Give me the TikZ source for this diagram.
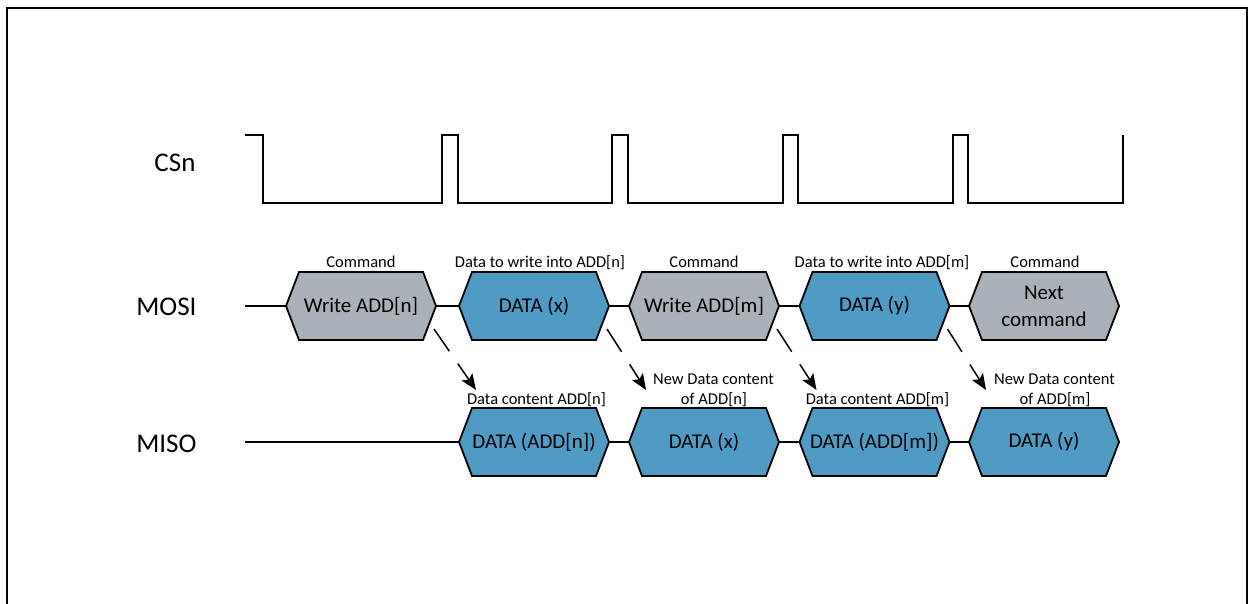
\documentclass[tikz,border=0pt]{standalone}
\usepackage{fontspec}
\setmainfont{Carlito}
\usetikzlibrary{calc,arrows.meta,backgrounds}
\definecolor{hexblue}{RGB}{80,155,196}
\definecolor{hexgray}{RGB}{170,177,185}
\tikzset{
 wire/.style={line width=1.8pt, line join=miter},
 hexbox/.style={rectangle, minimum width=150pt, minimum height=68pt, inner sep=0pt, outer sep=0pt, font=\fontsize{21}{27}\selectfont, align=center},
 hexshape/.style={line width=1.8pt, draw=black, line join=miter},
 sig/.style={font=\fontsize{27}{30}\selectfont, anchor=base east},
 lab/.style={font=\fontsize{16.5}{18}\selectfont, anchor=base},
 dep/.style={line width=1.5pt, dash pattern=on 27pt off 15pt, -{Stealth[length=16pt,width=13pt,inset=3.5pt]}}
}
\newcommand\hexpath[2]{\filldraw[hexshape, fill=#2] (#1.west) -- ($(#1.north west)+(13,0)$) -- ($(#1.north east)+(-13,0)$) -- (#1.east) -- ($(#1.south east)+(-13,0)$) -- ($(#1.south west)+(13,0)$) -- cycle;}
\begin{document}
\begin{tikzpicture}[x=1pt,y=-1pt]
\useasboundingbox (0,0) rectangle (1252,604);
\draw[line width=2pt] (7,604) -- (7,8) -- (1247,8) -- (1247,604);

\node[sig] (csn) at (199,172) {CSn};
\node[sig] (mosi) at (200,315) {MOSI};
\node[sig] (miso) at (200,452) {MISO};

\draw[wire] (245,135) -- (263,135) -- (263,203) -- (442,203) -- (442,135) -- (458,135) -- (458,203) -- (612,203) -- (612,135) -- (628,135) -- (628,203) -- (783,203) -- (783,135) -- (798,135) -- (798,203) -- (953,203) -- (953,135) -- (968,135) -- (968,203) -- (1123,203) -- (1123,135);

\node[hexbox] (h1) at (361,306) {Write ADD[n]};
\node[hexbox] (h2) at (534,306) {DATA (x)};
\node[hexbox] (h3) at (704,306) {Write ADD[m]};
\node[hexbox] (h4) at (874.5,306) {DATA (y)};
\node[hexbox] (h5) at (1044,306) {Next\\command};
\node[hexbox] (m1) at (534,442) {DATA (ADD[n])};
\node[hexbox] (m2) at (704,442) {DATA (x)};
\node[hexbox] (m3) at (874.5,442) {DATA (ADD[m])};
\node[hexbox] (m4) at (1044,442) {DATA (y)};

\begin{scope}[on background layer]
\hexpath{h1}{hexgray}
\hexpath{h2}{hexblue}
\hexpath{h3}{hexgray}
\hexpath{h4}{hexblue}
\hexpath{h5}{hexgray}
\hexpath{m1}{hexblue}
\hexpath{m2}{hexblue}
\hexpath{m3}{hexblue}
\hexpath{m4}{hexblue}
\end{scope}

\coordinate (mosi0) at (245,306);
\draw[wire] (mosi0) -- (h1.west);
\draw[wire] (h1.east) -- (h2.west);
\draw[wire] (h2.east) -- (h3.west);
\draw[wire] (h3.east) -- (h4.west);
\draw[wire] (h4.east) -- (h5.west);
\coordinate (miso0) at (245,442);
\draw[wire] (miso0) -- (m1.west);
\draw[wire] (m1.east) -- (m2.west);
\draw[wire] (m2.east) -- (m3.west);
\draw[wire] (m3.east) -- (m4.west);

\node[lab] (l1) at (361,267) {Command};
\node[lab] (l2) at (540,267) {Data to write into ADD[n]};
\node[lab] (l3) at (704,267) {Command};
\node[lab] (l4) at (882,267) {Data to write into ADD[m]};
\node[lab] (l5) at (1045,267) {Command};

\node[lab] (k1) at (536.5,404) {Data content ADD[n]};
\node[lab] (k2a) at (713.5,384) {New Data content};
\node[lab] (k2b) at (714,404) {of ADD[n]};
\node[lab] (k3) at (877.5,404) {Data content ADD[m]};
\node[lab] (k4a) at (1054.5,384) {New Data content};
\node[lab] (k4b) at (1055,404) {of ADD[m]};

\draw[dep] ($(h1.east)+(-2,23)$) -- ($(m1.north west)+(17,-18)$);
\draw[dep] ($(h2.east)+(-2,23)$) -- ($(m2.north west)+(17,-18)$);
\draw[dep] ($(h3.east)+(-2,23)$) -- ($(m3.north west)+(17,-18)$);
\draw[dep] ($(h4.east)+(-2,23)$) -- ($(m4.north west)+(17,-18)$);
\end{tikzpicture}
\end{document}
